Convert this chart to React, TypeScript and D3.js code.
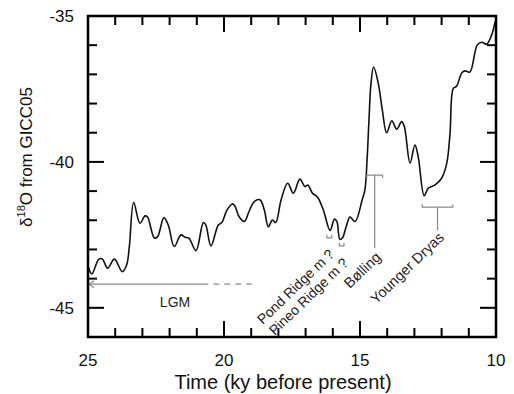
import React from "react";
import * as d3 from "d3";

const age = [25.0, 24.86, 24.6, 24.47, 24.28, 24.03, 23.74, 23.58, 23.48, 23.32, 23.09, 22.9, 22.81, 22.56, 22.44, 22.21, 22.05, 21.83, 21.58, 21.43, 21.29, 21.03, 20.76, 20.67, 20.48, 20.21, 20.08, 19.9, 19.7, 19.6, 19.45, 19.25, 19.08, 18.89, 18.68, 18.52, 18.37, 18.22, 18.1, 17.9, 17.66, 17.45, 17.21, 17.02, 16.92, 16.75, 16.56, 16.35, 16.1, 15.94, 15.85, 15.74, 15.65, 15.49, 15.37, 15.18, 14.92, 14.82, 14.74, 14.67, 14.6, 14.5, 14.33, 14.18, 14.02, 13.83, 13.65, 13.47, 13.37, 13.16, 12.98, 12.86, 12.64, 12.49, 12.24, 12.0, 11.81, 11.69, 11.57, 11.45, 11.26, 11.14, 10.96, 10.69, 10.53, 10.34, 10.16, 10.04, 10.0];
const d18O = [-43.56, -43.84, -43.33, -43.33, -43.64, -43.33, -43.76, -43.53, -42.9, -41.39, -42.1, -41.85, -41.89, -42.61, -42.56, -41.91, -42.16, -42.9, -42.5, -42.58, -42.61, -43.04, -42.08, -42.16, -42.88, -42.16, -42.08, -41.67, -41.44, -41.51, -41.87, -42.04, -41.7, -41.36, -41.3, -41.64, -42.22, -41.99, -42.08, -41.3, -40.73, -41.07, -40.59, -40.85, -40.79, -41.07, -41.21, -41.64, -42.35, -41.96, -42.04, -42.65, -42.61, -42.16, -41.89, -42.04, -41.3, -40.96, -39.93, -38.56, -37.36, -36.75, -37.3, -38.22, -39.0, -38.59, -38.88, -38.62, -38.79, -40.04, -39.42, -39.82, -41.16, -40.9, -40.79, -40.56, -40.04, -39.02, -37.48, -37.41, -36.95, -36.88, -36.92, -35.99, -35.9, -35.96, -35.65, -35.24, -35.12];

const xMajorTicks = [25, 20, 15, 10];
const xMinorTicks = [24, 23, 22, 21, 19, 18, 17, 16, 14, 13, 12, 11];
const yMajorTicks = [-45, -40, -35];
const yMinorTicks = [-46, -44, -43, -42, -41, -39, -38, -37, -36];

// annotations (ky, permil)
const lgmLine = { solidFrom: 25, solidTo: 20.8, dashTo: 18.98, value: -44.19, label: "LGM", labelAge: 21.8, labelValue: -44.97 };
const brackets = [
  { name: "Bølling", from: 14.75, to: 14.17, value: -40.45, dir: 1, stemTo: -42.95 },
  { name: "Younger Dryas", from: 12.71, to: 11.59, value: -41.55, dir: -1, stemTo: -42.35 },
  { name: "Pond Ridge m ?", from: 16.22, to: 16.04, value: -42.6, dir: -1, stemTo: null },
  { name: "Pineo Ridge m ?", from: 15.76, to: 15.59, value: -42.88, dir: -1, stemTo: null },
];
const labelText = ["Pond Ridge m ?", "Pineo Ridge m ?", "Bølling", "Younger Dryas"];
const labelAge = [15.92, 15.4, 14.2, 11.88];
const labelValue = [-43.2, -43.5, -43.3, -42.62];

const W = 514, H = 394;
const L = 88, R = 496, T = 16, B = 337;
const FONT = "'Liberation Sans', Arial, sans-serif";

export default function App() {
  const x = d3.scaleLinear().domain([25, 10]).range([L, R]);
  const y = d3.scaleLinear().domain([-46, -35]).range([B, T]);
  const pts: [number, number][] = age.map((a, i) => [a, d18O[i]]);
  const line = d3.line<[number, number]>().x(d => x(d[0])).y(d => y(d[1])).curve(d3.curveCatmullRom.alpha(0.5));
  const gray = "#8a8a8a";
  const majorLen = 16, minorLen = 9;

  return (
    <svg width={W} height={H} style={{ position: "absolute", left: 0, top: 0, background: "#fff" }} fontFamily={FONT}>
      <rect x={0} y={0} width={W} height={H} fill="#fff" />
      {/* curve */}
      <path d={line(pts) || ""} fill="none" stroke="#111" strokeWidth={1.6} strokeLinejoin="round" />

      {/* LGM */}
      <line x1={x(lgmLine.solidFrom)} x2={x(lgmLine.solidTo)} y1={y(lgmLine.value)} y2={y(lgmLine.value)} stroke={gray} strokeWidth={1.2} />
      <line x1={x(lgmLine.solidTo)} x2={x(lgmLine.dashTo)} y1={y(lgmLine.value)} y2={y(lgmLine.value)} stroke={gray} strokeWidth={1.2} strokeDasharray="6,5" />
      <path d={`M${x(lgmLine.solidFrom) + 6},${y(lgmLine.value) - 3.5} L${x(lgmLine.solidFrom) + 1},${y(lgmLine.value)} L${x(lgmLine.solidFrom) + 6},${y(lgmLine.value) + 3.5}`} fill="none" stroke={gray} strokeWidth={1.2} />
      <text x={x(lgmLine.labelAge)} y={y(lgmLine.labelValue)} fontSize={14} textAnchor="middle" fill="#222">{lgmLine.label}</text>

      {/* brackets */}
      {brackets.map((b, i) => {
        const x1 = x(b.from), x2 = x(b.to), yy = y(b.value);
        const h = 3 * b.dir;
        const mid = (x1 + x2) / 2;
        return (
          <g key={i} stroke={gray} strokeWidth={1.2} fill="none">
            <path d={`M${x1},${yy + h} L${x1},${yy} L${x2},${yy} L${x2},${yy + h}`} />
            {b.stemTo !== null && <line x1={mid} x2={mid} y1={yy} y2={y(b.stemTo as number)} />}
          </g>
        );
      })}
      {labelText.map((t, i) => (
        <text key={t} transform={`translate(${x(labelAge[i])},${y(labelValue[i])}) rotate(-44)`} textAnchor="end" fontSize={i < 2 ? 14 : 14.5} fill="#222">{t}</text>
      ))}

      {/* frame */}
      <rect x={L} y={T} width={R - L} height={B - T} fill="none" stroke="#000" strokeWidth={2.5} />
      {/* ticks */}
      <g stroke="#000" strokeWidth={2}>
        {xMajorTicks.map(t => (
          <g key={"xM" + t}>
            <line x1={x(t)} x2={x(t)} y1={B} y2={B - majorLen} />
            <line x1={x(t)} x2={x(t)} y1={T} y2={T + majorLen} />
          </g>
        ))}
        {xMinorTicks.map(t => (
          <g key={"xm" + t}>
            <line x1={x(t)} x2={x(t)} y1={B} y2={B - minorLen} />
            <line x1={x(t)} x2={x(t)} y1={T} y2={T + minorLen} />
          </g>
        ))}
        {yMajorTicks.map(t => (
          <g key={"yM" + t}>
            <line x1={L} x2={L + majorLen} y1={y(t)} y2={y(t)} />
            <line x1={R} x2={R - majorLen} y1={y(t)} y2={y(t)} />
          </g>
        ))}
        {yMinorTicks.map(t => (
          <g key={"ym" + t}>
            <line x1={L} x2={L + minorLen} y1={y(t)} y2={y(t)} />
            <line x1={R} x2={R - minorLen} y1={y(t)} y2={y(t)} />
          </g>
        ))}
      </g>
      {/* tick labels */}
      {xMajorTicks.map(t => (
        <text key={"xl" + t} x={x(t)} y={366} textAnchor="middle" fontSize={17} fill="#111">{t}</text>
      ))}
      {yMajorTicks.map(t => (
        <text key={"yl" + t} x={74} y={y(t) + 6} textAnchor="end" fontSize={17} fill="#111">{t}</text>
      ))}
      {/* axis titles */}
      <text x={283} y={389} textAnchor="middle" fontSize={20} fill="#111">Time (ky before present)</text>
      <text transform={`translate(32,157) rotate(-90)`} textAnchor="middle" fontSize={17} fill="#111">
        δ<tspan fontSize={11} dy={-7}>18</tspan><tspan dy={7}>O from GICC05</tspan>
      </text>
    </svg>
  );
}
